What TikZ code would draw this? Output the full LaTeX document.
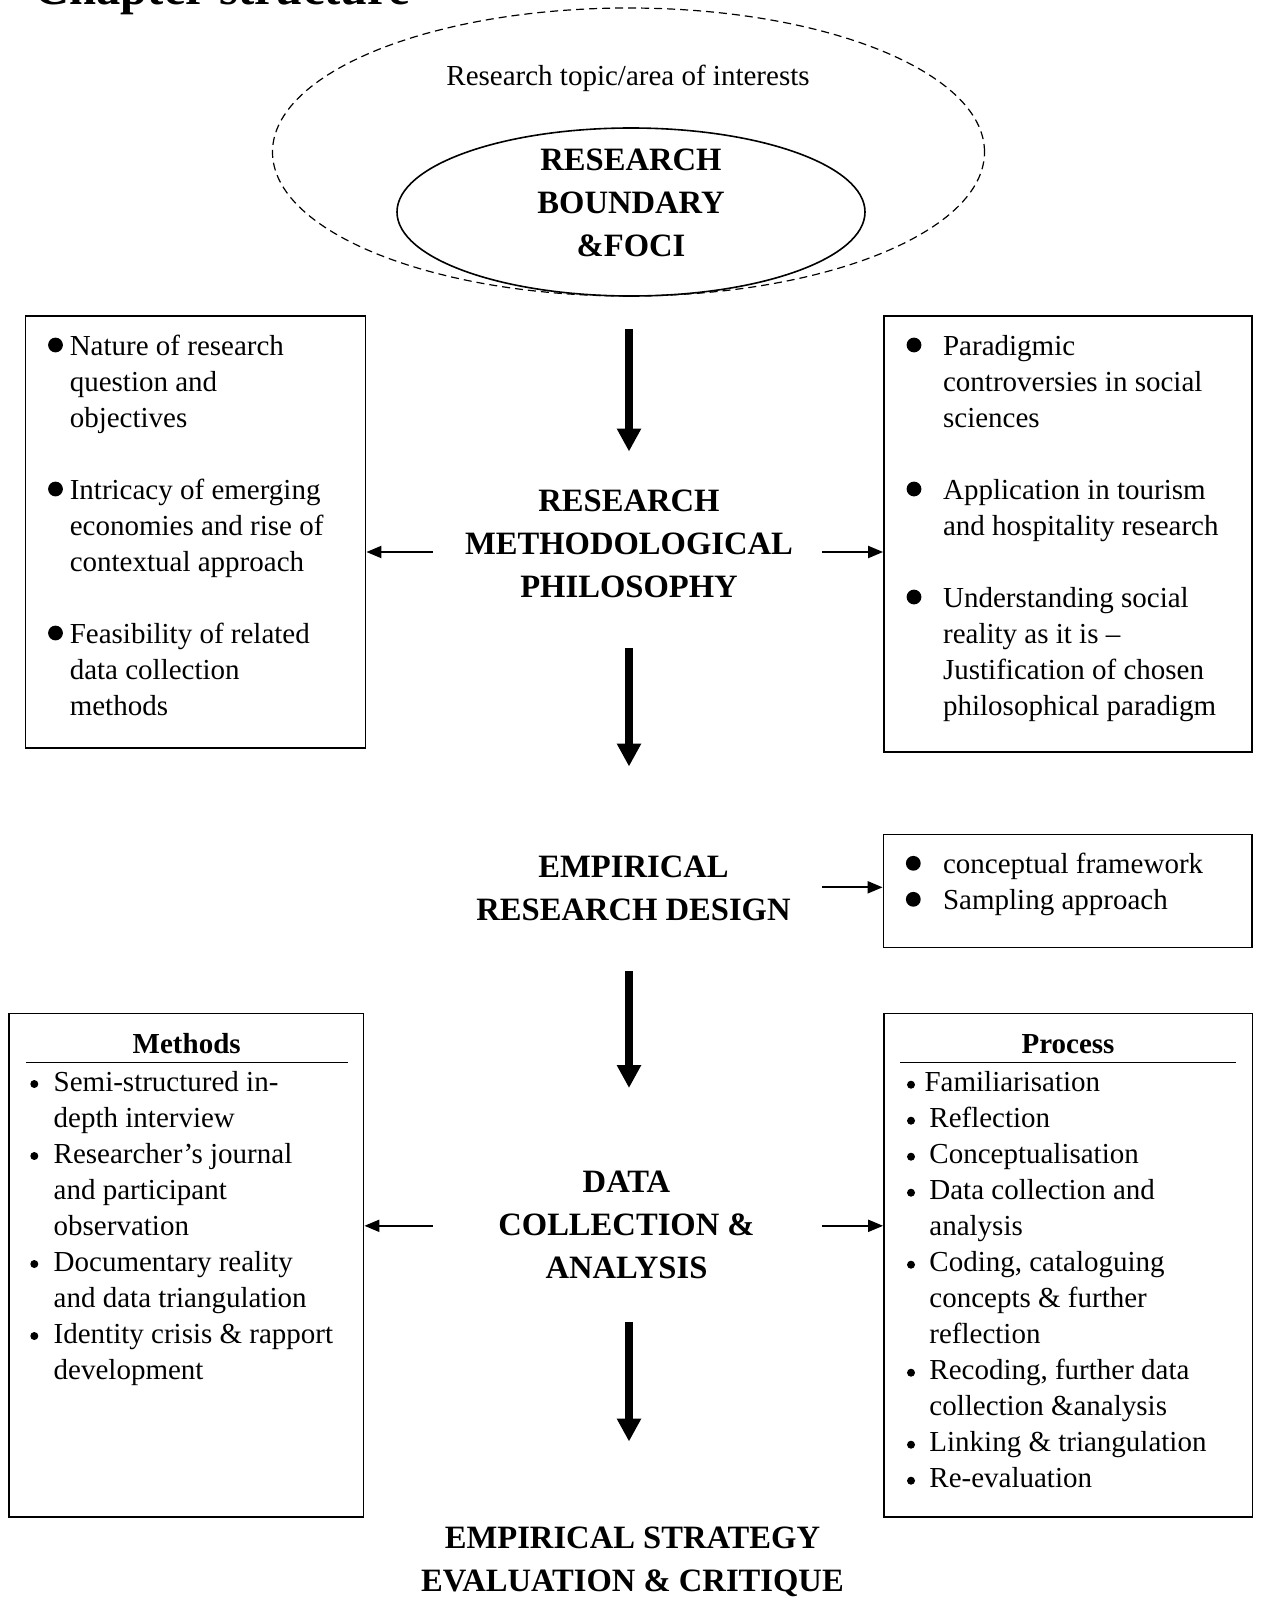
\documentclass[tikz,border=0pt]{standalone}
\usepackage{fontspec}
\setmainfont{Liberation Serif}
\usetikzlibrary{shapes.geometric,arrows.meta}

% text sizes
\newcommand\bodysize{\fontsize{14.5pt}{18pt}\selectfont}
\newcommand\headsize{\fontsize{16.3pt}{21.5pt}\selectfont\bfseries}
% stacked lines whose baseline is the first line
\newcommand\stack[2][l]{\begin{tabular}[t]{@{}#1@{}}#2\end{tabular}}

\begin{document}
\begin{tikzpicture}[x=0.5pt,y=-0.5pt,
  heading/.style={inner sep=0pt, font=\headsize, anchor=base},
  body/.style={inner sep=0pt, font=\bodysize, anchor=base west},
  subhead/.style={inner sep=0pt, font=\bodysize\bfseries, anchor=base},
  panel/.style={draw, line width=0.9pt, inner sep=0pt},
  bigarrow/.style={line width=4pt, -{Triangle[length=11.5pt,width=11.5pt]}},
  thinarrow/.style={line width=1pt, -{Triangle[length=7.5pt,width=6pt]}},
  bigdot/.style={fill=black},
  rulecol/.style={line width=0.8pt}
]
\useasboundingbox (0,0) rectangle (1260,1600);

% heading of the page, running off the top edge
\node[inner sep=0pt, anchor=base west, font=\fontsize{24.3pt}{28pt}\selectfont\bfseries] (title) at (34,5) {Chapter structure};

% research area and its focus
\node[ellipse, draw, dash pattern=on 4pt off 2.5pt, line width=0.6pt, inner sep=0pt,
      minimum width=356pt, minimum height=144pt] (topicarea) at (628.5,152) {};
\node[body, anchor=base] (topic) at (628,85.5) {Research topic/area of interests};
\node[ellipse, draw, line width=0.8pt, inner sep=0pt,
      minimum width=234pt, minimum height=84pt] (boundary) at (631,212) {};
\node[heading] (boundtxt) at (631,170) {\stack[c]{RESEARCH\\BOUNDARY\\\&FOCI}};

% main stages
\node[heading] (philo) at (629,511) {\stack[c]{RESEARCH\\METHODOLOGICAL\\PHILOSOPHY}};
\node[heading] (design) at (633.5,877) {\stack[c]{EMPIRICAL\\RESEARCH DESIGN}};
\node[heading] (data) at (626.5,1192.5) {\stack[c]{DATA\\COLLECTION \&\\ANALYSIS}};
\node[heading] (strategy) at (632.5,1548) {\stack[c]{EMPIRICAL STRATEGY\\EVALUATION \& CRITIQUE}};

% side panels
\node[panel, minimum width=170pt, minimum height=216pt] (philoL) at (195.5,532) {};
\node[panel, minimum width=184pt, minimum height=218pt] (philoR) at (1068,534) {};
\node[panel, minimum width=184.25pt, minimum height=56.5pt] (designR) at (1067.75,891) {};
\node[panel, minimum width=177.25pt, minimum height=251.75pt] (methods) at (186.25,1265.25) {};
\node[panel, minimum width=184.25pt, minimum height=251.75pt] (process) at (1068.25,1265.25) {};

% panel contents
\node[body] (philoLtxt) at (69.4,355) {\stack{Nature of research\\question and\\objectives\\ \\Intricacy of emerging\\economies and rise of\\contextual approach\\ \\Feasibility of related\\data collection\\methods}};
\foreach \yy in {355,499,643} \fill[bigdot] (55.5,\yy-10) circle (3.7pt);

\node[body] (philoRtxt) at (942.7,355) {\stack{Paradigmic\\controversies in social\\sciences\\ \\Application in tourism\\and hospitality research\\ \\Understanding social\\reality as it is –\\Justification of chosen\\philosophical paradigm}};
\foreach \yy in {355,499,607} \fill[bigdot] (914,\yy-10) circle (3.7pt);

\node[body] (designRtxt) at (942.7,873.3) {\stack{conceptual framework\\Sampling approach}};
\foreach \yy in {873.3,909.3} \fill[bigdot] (913.3,\yy-10) circle (3.7pt);

\node[subhead] (methodshead) at (186.7,1053) {Methods};
\draw[rulecol] (26,1062.3) -- (347.7,1062.3);
\node[body] (methodstxt) at (53.3,1091) {\stack{Semi-structured in-\\depth interview\\Researcher’s journal\\and participant\\observation\\Documentary reality\\and data triangulation\\Identity crisis \& rapport\\development}};
\foreach \k in {0,2,5,7} \fill[bigdot] (34.3,1091+36*\k-7) circle (2pt);

\node[subhead] (processhead) at (1068,1053) {Process};
\draw[rulecol] (900,1062.3) -- (1235.7,1062.3);
\node[body] (processtxt) at (929,1091.7) {\stack{\hspace{-2.4pt}Familiarisation\\Reflection\\Conceptualisation\\Data collection and\\analysis\\Coding, cataloguing\\concepts \& further\\reflection\\Recoding, further data\\collection \&analysis\\Linking \& triangulation\\Re-evaluation}};
\foreach \k in {0,1,2,3,5,8,10,11} \fill[bigdot] (911,1091.7+36*\k-7) circle (2pt);

% downward flow
\coordinate (spine) at (629,0);
\draw[bigarrow, shorten <=16pt, shorten >=14.5pt] (boundary.south -| spine) -- (philo.north -| spine);
\draw[bigarrow, shorten <=18.75pt, shorten >=40pt] (philo.south -| spine) -- (design.north -| spine);
\draw[bigarrow, shorten <=19pt, shorten >=37pt] (design.south -| spine) -- (data.north -| spine);
\draw[bigarrow, shorten <=15pt, shorten >=38pt] (data.south -| spine) -- (strategy.north -| spine);

% sideways links
\coordinate (philoW) at (432.6,552);
\coordinate (philoE) at (822.3,552);
\coordinate (designE) at (822.3,887.3);
\coordinate (dataW) at (432.6,1225.8);
\coordinate (dataE) at (822.3,1225.8);
\draw[thinarrow] (philoW) -- (philoW -| philoL.east);
\draw[thinarrow] (philoE) -- (philoE -| philoR.west);
\draw[thinarrow] (designE) -- (designE -| designR.west);
\draw[thinarrow] (dataW) -- (dataW -| methods.east);
\draw[thinarrow] (dataE) -- (dataE -| process.west);
\end{tikzpicture}
\end{document}
